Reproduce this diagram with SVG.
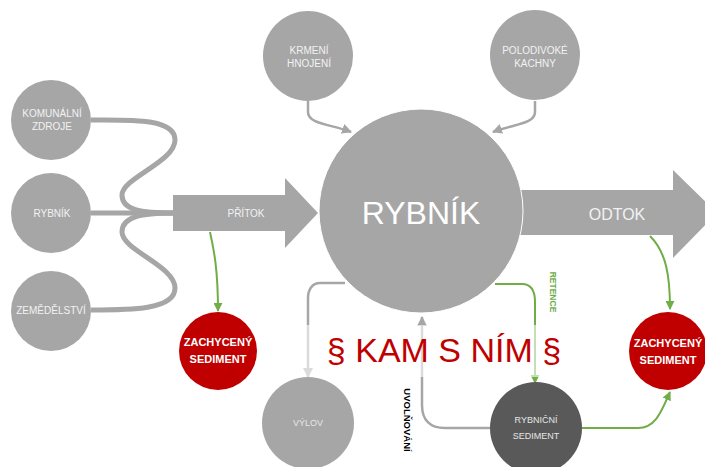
<svg xmlns="http://www.w3.org/2000/svg" width="705" height="467" viewBox="0 0 705 467">
<defs>
<style>
.g{fill:#a6a6a6}
.lbl{font-family:"Liberation Sans",Arial,sans-serif;fill:#f2f2f2;text-anchor:middle}
.red{fill:#c00000}
.wb{font-family:"Liberation Sans",Arial,sans-serif;fill:#ffffff;font-weight:bold;font-size:11px;text-anchor:middle}
.cg{fill:none;stroke:#a6a6a6;stroke-width:2.5}
.cgr{fill:none;stroke:#70ad47;stroke-width:2}
.thick{fill:none;stroke:#a6a6a6;stroke-width:5}
</style>
<marker id="ag" viewBox="0 0 10 10" refX="9" refY="5" markerWidth="4" markerHeight="4" orient="auto" markerUnits="strokeWidth"><path d="M0,0 L10,5 L0,10 z" fill="#a6a6a6"/></marker>
<marker id="agr" viewBox="0 0 10 10" refX="9" refY="5" markerWidth="4.5" markerHeight="4.5" orient="auto" markerUnits="strokeWidth"><path d="M0,0 L10,5 L0,10 z" fill="#70ad47"/></marker>
</defs>
<rect width="705" height="467" fill="#ffffff"/>

<g id="connectors">
<path class="thick" d="M91,120 C130,120 175,118 175,140 C175,162 122,178 122,195 C122,210 140,213 175,213"/>
<path class="thick" d="M91,310 C130,310 175,310 175,288 C175,266 122,250 122,232 C122,217 140,213 175,213"/>
<path class="thick" d="M91,213 L175,213"/>
<path class="cg" marker-end="url(#ag)" d="M308,101 L308,112 C308,124 330,124 351,132"/>
<path class="cg" marker-end="url(#ag)" d="M535,101 L535,112 C535,124 514,124 493,132"/>
<path class="cgr" marker-end="url(#agr)" d="M210,232 C214,250 218,270 218,311"/>
<path class="cgr" marker-end="url(#agr)" d="M650,236 C666,252 670,275 670,309"/>
<path class="cgr" marker-end="url(#agr)" d="M495,284 L522,284 C532,284 535,292 535,302 L535,383"/>
<path class="cgr" marker-end="url(#agr)" d="M582,428 L638,428 C656,428 662,410 670,392"/>
<path class="cg" marker-end="url(#ag)" d="M345,283 L320,283 C312,283 308,290 308,298 L308,377"/>
<path class="cg" marker-end="url(#ag)" d="M490,428 L445,428 C430,428 422,420 422,405 L422,317"/>
</g>

<g id="pritok">
<path class="g" d="M173,195 L285,195 L285,178 L318,213 L285,248 L285,231 L173,231 z"/>
<text class="lbl" x="246" y="217" font-size="10">PŘÍTOK</text>
</g>

<g id="odtok">
<path class="g" d="M520,190 L673,190 L673,170 L717,213 L673,258 L673,235 L520,235 z"/>
<text class="lbl" x="617" y="220" font-size="16">ODTOK</text>
</g>

<g id="rybnik-main">
<circle class="g" cx="421" cy="211" r="102" stroke="#ffffff" stroke-width="1"/>
<text class="lbl" x="421" y="224" font-size="32" style="fill:#ffffff">RYBNÍK</text>
</g>

<g id="komunalni">
<circle class="g" cx="51" cy="120" r="40"/>
<text class="lbl" font-size="10"><tspan x="52" y="117">KOMUNÁLNÍ</tspan><tspan x="52" y="130">ZDROJE</tspan></text>
</g>
<g id="rybnik-src">
<circle class="g" cx="51" cy="213" r="40"/>
<text class="lbl" x="52" y="217" font-size="10">RYBNÍK</text>
</g>
<g id="zemedelstvi">
<circle class="g" cx="51" cy="311" r="40"/>
<text class="lbl" x="51" y="314" font-size="10">ZEMĚDĚLSTVÍ</text>
</g>
<g id="krmeni">
<circle class="g" cx="308" cy="56" r="45"/>
<text class="lbl" font-size="10"><tspan x="309" y="54">KRMENÍ</tspan><tspan x="309" y="67">HNOJENÍ</tspan></text>
</g>
<g id="kachny">
<circle class="g" cx="535" cy="55" r="45"/>
<text class="lbl" font-size="10"><tspan x="535" y="54">POLODIVOKÉ</tspan><tspan x="535" y="67">KACHNY</tspan></text>
</g>

<g id="zachyceny-1">
<circle class="red" cx="218" cy="351" r="39"/>
<text class="wb"><tspan x="218" y="346">ZACHYCENÝ</tspan><tspan x="218" y="363">SEDIMENT</tspan></text>
</g>
<g id="zachyceny-2">
<circle class="red" cx="668" cy="351" r="39"/>
<text class="wb"><tspan x="668" y="347">ZACHYCENÝ</tspan><tspan x="668" y="364">SEDIMENT</tspan></text>
</g>

<g id="vylov">
<circle class="g" cx="308" cy="423" r="46"/>
<text class="lbl" x="308" y="426" font-size="9" style="fill:#e6e6e6">VÝLOV</text>
</g>

<g id="rybnicni-sediment">
<circle cx="536" cy="428" r="46" fill="#595959"/>
<text class="lbl" font-size="9" style="fill:#e6e6e6"><tspan x="536" y="423">RYBNIČNÍ</tspan><tspan x="536" y="439">SEDIMENT</tspan></text>
</g>

<g id="kam-s-nim">
<rect x="300" y="325" width="265" height="52" fill="#ffffff" fill-opacity="0.6"/>
<text x="444" y="362" font-family="'Liberation Sans',Arial,sans-serif" font-size="34" fill="#c00000" text-anchor="middle">§ KAM S NÍM §</text>
</g>

<g id="labels">
<text transform="translate(404,420) rotate(90)" font-family="'Liberation Sans',Arial,sans-serif" font-size="9.5" font-weight="bold" fill="#000000" text-anchor="middle">UVOLŇOVÁNÍ</text>
<text transform="translate(550,292) rotate(90)" font-family="'Liberation Sans',Arial,sans-serif" font-size="8.5" font-weight="bold" fill="#70ad47" text-anchor="middle">RETENCE</text>
</g>
</svg>
